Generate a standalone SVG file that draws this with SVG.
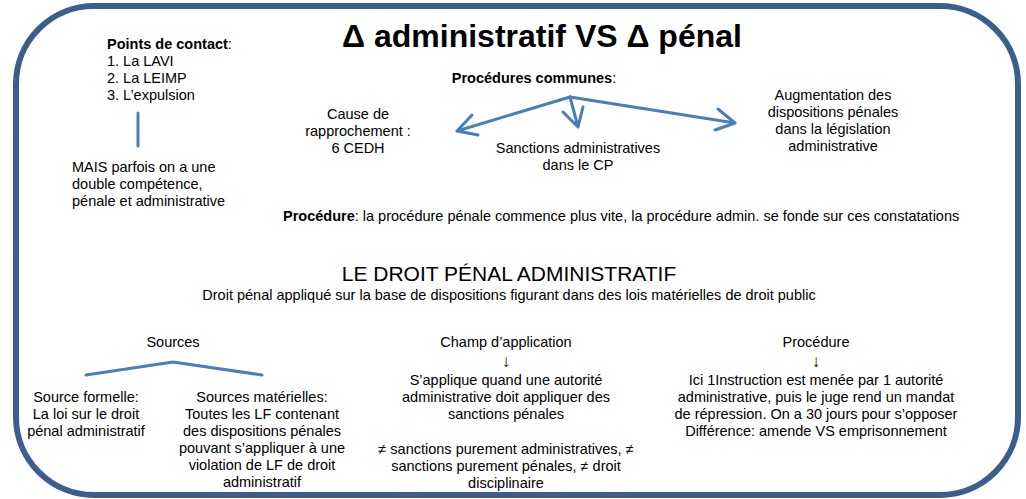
<svg xmlns="http://www.w3.org/2000/svg" width="1026" height="499" viewBox="0 0 1026 499">
<style>
text{font-family:"Liberation Sans",Arial,sans-serif;fill:#000;font-size:14.5px}
.c{text-anchor:middle}
.b{font-weight:bold}
.title{font-size:32px;font-weight:bold}
.h2{font-size:21px}
.ar{font-size:17px}
.ln{fill:none;stroke:#4a7ebb;stroke-width:3;stroke-linecap:round;stroke-linejoin:round}
</style>
<rect width="1026" height="499" fill="#fff"/>
<rect id="frame" x="16" y="6" width="1002" height="489" rx="78" ry="78" fill="none" stroke="#3b5e8c" stroke-width="6"/>

<g id="connectors">
<line class="ln" x1="138" y1="113" x2="138" y2="146"/>
<path class="ln" d="M570 97 L457 131 M472 115 L457 131 L478 135"/>
<path class="ln" d="M570 97 L578 127 M563 112 L578 127 L583 107"/>
<path class="ln" d="M570 97 L735 123 M718 109 L735 123 L715 130"/>
<path class="ln" d="M86 375 L173 362 L262 375"/>
</g>

<g id="title"><text class="title c" x="542" y="47">Δ administratif VS Δ pénal</text></g>

<g id="points-contact">
<text x="107" y="49"><tspan class="b">Points de contact</tspan>:</text>
<text x="107" y="66">1. La LAVI</text>
<text x="107" y="83">2. La LEIMP</text>
<text x="107" y="100">3. L’expulsion</text>
</g>

<g id="mais">
<text x="72" y="172">MAIS parfois on a une</text>
<text x="72" y="189">double compétence,</text>
<text x="72" y="206">pénale et administrative</text>
</g>

<g id="procedures-communes"><text class="c" x="534" y="83"><tspan class="b">Procédures communes</tspan>:</text></g>

<g id="cause">
<text class="c" x="358" y="119">Cause de</text>
<text class="c" x="358" y="136">rapprochement :</text>
<text class="c" x="358" y="153">6 CEDH</text>
</g>

<g id="sanctions">
<text class="c" x="578" y="153">Sanctions administratives</text>
<text class="c" x="578" y="170">dans le CP</text>
</g>

<g id="augmentation">
<text class="c" x="833" y="100">Augmentation des</text>
<text class="c" x="833" y="117">dispositions pénales</text>
<text class="c" x="833" y="134">dans la législation</text>
<text class="c" x="833" y="151">administrative</text>
</g>

<g id="procedure-top"><text x="283" y="221"><tspan class="b">Procédure</tspan>: la procédure pénale commence plus vite, la procédure admin. se fonde sur  ces constatations</text></g>

<g id="droit-penal-admin">
<text class="h2 c" x="509" y="281">LE DROIT PÉNAL ADMINISTRATIF</text>
<text class="c" x="509" y="300">Droit pénal appliqué sur la base de dispositions figurant dans des lois matérielles de droit public</text>
</g>

<g id="sources"><text class="c" x="173" y="347">Sources</text></g>

<g id="source-formelle">
<text class="c" x="86" y="402">Source formelle:</text>
<text class="c" x="86" y="419">La loi sur le droit</text>
<text class="c" x="86" y="436">pénal administratif</text>
</g>

<g id="sources-materielles">
<text class="c" x="262" y="402">Sources matérielles:</text>
<text class="c" x="262" y="419">Toutes les LF contenant</text>
<text class="c" x="262" y="436">des dispositions pénales</text>
<text class="c" x="262" y="453">pouvant s’appliquer à une</text>
<text class="c" x="262" y="470">violation de LF de  droit</text>
<text class="c" x="262" y="487">administratif</text>
</g>

<g id="champ">
<text class="c" x="506" y="347">Champ d’application</text>
<text class="c ar" x="506" y="367">↓</text>
<text class="c" x="506" y="385">S’applique quand une autorité</text>
<text class="c" x="506" y="402">administrative doit appliquer des</text>
<text class="c" x="506" y="419">sanctions pénales</text>
<text class="c" x="506" y="454">≠ sanctions purement administratives, ≠</text>
<text class="c" x="506" y="471">sanctions purement pénales, ≠ droit</text>
<text class="c" x="506" y="488">disciplinaire</text>
</g>

<g id="procedure-bottom">
<text class="c" x="816" y="347">Procédure</text>
<text class="c ar" x="816" y="367">↓</text>
<text class="c" x="816" y="385">Ici 1Instruction est menée par 1 autorité</text>
<text class="c" x="816" y="402">administrative, puis le juge rend un mandat</text>
<text class="c" x="816" y="419">de répression. On a 30 jours pour s’opposer</text>
<text class="c" x="816" y="436">Différence: amende VS emprisonnement</text>
</g>
</svg>
